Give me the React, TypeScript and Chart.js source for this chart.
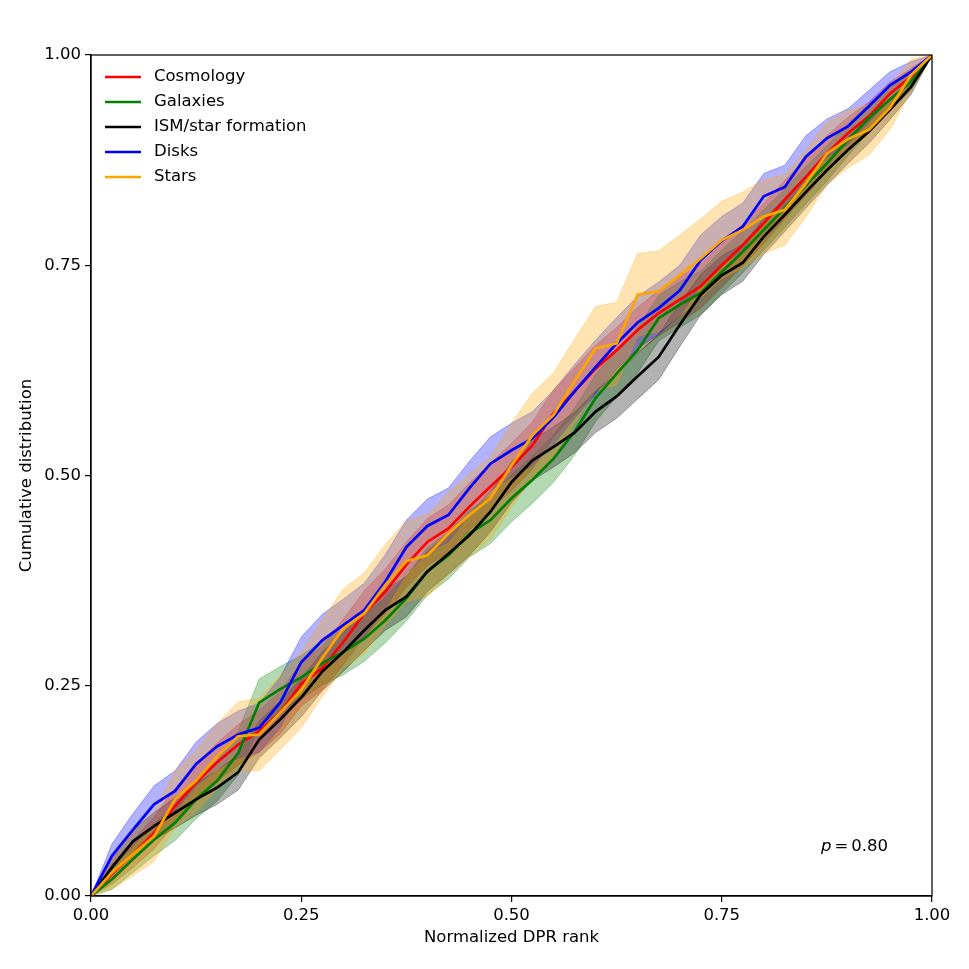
import { useEffect, useRef } from 'react';
import { Chart, registerables } from 'chart.js';

Chart.register(...registerables);

const FONT = "'DejaVu Sans', sans-serif";

const rank = [
  0, 0.025, 0.05, 0.075, 0.1, 0.125, 0.15, 0.175, 0.2, 0.225, 0.25, 0.275, 0.3, 0.325, 0.35, 0.375,
  0.4, 0.425, 0.45, 0.475, 0.5, 0.525, 0.55, 0.575, 0.6, 0.625, 0.65, 0.675, 0.7, 0.725, 0.75, 0.775,
  0.8, 0.825, 0.85, 0.875, 0.9, 0.925, 0.95, 0.975, 1,
];

const cosmology = [
  0, 0.026, 0.05, 0.075, 0.107, 0.135, 0.159, 0.18, 0.196, 0.218, 0.252, 0.271, 0.302, 0.336, 0.362, 0.394,
  0.421, 0.437, 0.463, 0.487, 0.51, 0.536, 0.574, 0.6, 0.627, 0.649, 0.673, 0.693, 0.709, 0.725, 0.75, 0.774,
  0.8, 0.828, 0.855, 0.883, 0.907, 0.927, 0.954, 0.974, 1,
];
const galaxies = [
  0, 0.02, 0.044, 0.067, 0.087, 0.115, 0.137, 0.17, 0.23, 0.246, 0.26, 0.277, 0.29, 0.306, 0.328, 0.354,
  0.386, 0.405, 0.431, 0.447, 0.473, 0.495, 0.52, 0.552, 0.592, 0.621, 0.649, 0.687, 0.703, 0.717, 0.742, 0.766,
  0.792, 0.818, 0.845, 0.871, 0.899, 0.925, 0.947, 0.968, 1,
];
const ism = [
  0, 0.034, 0.065, 0.083, 0.099, 0.115, 0.129, 0.147, 0.186, 0.21, 0.236, 0.267, 0.29, 0.316, 0.34, 0.356,
  0.386, 0.407, 0.429, 0.457, 0.492, 0.518, 0.534, 0.551, 0.576, 0.594, 0.618, 0.641, 0.679, 0.715, 0.738, 0.753,
  0.784, 0.81, 0.837, 0.863, 0.887, 0.909, 0.935, 0.962, 1,
];
const disks = [
  0, 0.048, 0.079, 0.109, 0.125, 0.157, 0.178, 0.192, 0.2, 0.23, 0.278, 0.304, 0.322, 0.34, 0.374, 0.415,
  0.44, 0.453, 0.485, 0.514, 0.53, 0.544, 0.569, 0.6, 0.629, 0.657, 0.682, 0.699, 0.72, 0.756, 0.779, 0.796,
  0.832, 0.843, 0.879, 0.901, 0.915, 0.939, 0.964, 0.98, 1,
];
const stars = [
  0, 0.028, 0.05, 0.071, 0.115, 0.137, 0.166, 0.19, 0.192, 0.218, 0.245, 0.283, 0.318, 0.336, 0.37, 0.398,
  0.405, 0.431, 0.453, 0.473, 0.512, 0.548, 0.572, 0.612, 0.651, 0.657, 0.715, 0.719, 0.738, 0.758, 0.78, 0.792,
  0.808, 0.816, 0.847, 0.883, 0.9, 0.911, 0.937, 0.976, 1,
];

// half-widths of the shaded bands
const cosmologyBand = [
  0, 0.012, 0.016, 0.019, 0.021, 0.022, 0.023, 0.024, 0.025, 0.025, 0.026, 0.026, 0.027, 0.027, 0.027, 0.027,
  0.028, 0.028, 0.028, 0.028, 0.028, 0.028, 0.028, 0.028, 0.028, 0.027, 0.027, 0.027, 0.027, 0.026, 0.026, 0.025,
  0.024, 0.023, 0.022, 0.021, 0.019, 0.017, 0.014, 0.01, 0,
];
const galaxiesBand = [
  0, 0.012, 0.016, 0.019, 0.021, 0.023, 0.024, 0.026, 0.028, 0.027, 0.026, 0.026, 0.027, 0.027, 0.027, 0.027,
  0.028, 0.028, 0.028, 0.028, 0.028, 0.028, 0.028, 0.028, 0.028, 0.027, 0.027, 0.027, 0.027, 0.026, 0.026, 0.025,
  0.024, 0.023, 0.022, 0.021, 0.019, 0.017, 0.014, 0.01, 0,
];
const ismBand = [
  0, 0.01, 0.014, 0.016, 0.018, 0.019, 0.02, 0.021, 0.022, 0.022, 0.023, 0.023, 0.023, 0.024, 0.024, 0.024,
  0.024, 0.024, 0.024, 0.024, 0.024, 0.024, 0.024, 0.024, 0.025, 0.026, 0.027, 0.027, 0.026, 0.024, 0.023, 0.022,
  0.021, 0.02, 0.019, 0.018, 0.016, 0.014, 0.012, 0.009, 0,
];
const disksBand = [
  0, 0.014, 0.019, 0.022, 0.024, 0.026, 0.027, 0.028, 0.029, 0.03, 0.03, 0.031, 0.031, 0.032, 0.032, 0.032,
  0.032, 0.032, 0.032, 0.032, 0.032, 0.032, 0.032, 0.032, 0.032, 0.031, 0.031, 0.031, 0.03, 0.03, 0.029, 0.028,
  0.027, 0.026, 0.025, 0.023, 0.021, 0.019, 0.016, 0.012, 0,
];
const starsBand = [
  0, 0.02, 0.026, 0.03, 0.034, 0.037, 0.039, 0.041, 0.043, 0.044, 0.045, 0.046, 0.047, 0.048, 0.048, 0.048,
  0.049, 0.049, 0.049, 0.049, 0.05, 0.05, 0.05, 0.05, 0.05, 0.049, 0.049, 0.048, 0.048, 0.047, 0.046, 0.045,
  0.044, 0.042, 0.04, 0.037, 0.034, 0.03, 0.026, 0.019, 0,
];

const labels = ['Cosmology', 'Galaxies', 'ISM/star formation', 'Disks', 'Stars'];
const colors = ['255,0,0', '0,128,0', '0,0,0', '0,0,255', '255,165,0'];

export default function App(): React.JSX.Element {
  const canvasRef = useRef<HTMLCanvasElement>(null);

  useEffect(() => {
    document.body.style.margin = '0';
    if (!canvasRef.current) return;

    const series = [cosmology, galaxies, ism, disks, stars];
    const bands = [cosmologyBand, galaxiesBand, ismBand, disksBand, starsBand];
    const datasets: any[] = [];
    series.forEach((ys, s) => {
      const rgb = colors[s];
      // bands underneath all lines; later series on top of earlier ones
      datasets.push({
        label: labels[s] + ' lo',
        data: rank.map((x, i) => ({ x, y: Math.max(0, ys[i] - bands[s][i]) })),
        borderColor: `rgba(${rgb},0.3)`,
        borderWidth: 1,
        pointRadius: 0,
        fill: false,
        order: 20 - s,
      });
      datasets.push({
        label: labels[s] + ' hi',
        data: rank.map((x, i) => ({ x, y: Math.min(1, ys[i] + bands[s][i]) })),
        borderColor: `rgba(${rgb},0.3)`,
        backgroundColor: `rgba(${rgb},0.3)`,
        borderWidth: 1,
        pointRadius: 0,
        fill: '-1',
        order: 20 - s,
      });
      datasets.push({
        label: labels[s],
        data: rank.map((x, i) => ({ x, y: ys[i] })),
        borderColor: `rgb(${rgb})`,
        borderWidth: 2.7,
        pointRadius: 0,
        fill: false,
        order: 10 - s,
      });
    });

    const framePlugin = {
      id: 'frame',
      afterDatasetsDraw(chart: Chart) {
        const { ctx, chartArea: a } = chart;
        ctx.save();
        ctx.strokeStyle = '#000';
        ctx.lineWidth = 1.25;
        ctx.strokeRect(a.left, a.top, a.right - a.left, a.bottom - a.top);
        ctx.restore();
      },
    };

    const legendPlugin = {
      id: 'mplLegend',
      afterDraw(chart: Chart) {
        const { ctx } = chart;
        ctx.save();
        ctx.font = `16.5px ${FONT}`;
        ctx.textBaseline = 'middle';
        labels.forEach((name, i) => {
          const y = 77 + i * 25;
          ctx.strokeStyle = `rgb(${colors[i]})`;
          ctx.lineWidth = 2.7;
          ctx.beginPath();
          ctx.moveTo(105, y);
          ctx.lineTo(141, y);
          ctx.stroke();
          ctx.fillStyle = '#000';
          ctx.fillText(name, 154, y);
        });
        // p-value annotation
        ctx.font = `italic 16.5px ${FONT}`;
        let x = 821;
        const y = 847;
        ctx.fillText('p', x, y);
        x += ctx.measureText('p').width + 3;
        ctx.font = `16.5px ${FONT}`;
        ctx.fillText('=', x, y);
        x += ctx.measureText('=').width + 3;
        ctx.fillText('0.80', x, y);
        ctx.restore();
      },
    };

    const tickFont = { family: FONT, size: 16.5 };

    const chart = new Chart(canvasRef.current, {
      type: 'line',
      data: { datasets },
      options: {
        animation: false,
        responsive: true,
        maintainAspectRatio: false,
        devicePixelRatio: 1,
        layout: { padding: { top: 55, right: 37, left: 0, bottom: 0 } },
        plugins: { legend: { display: false }, tooltip: { enabled: false } },
        scales: {
          x: {
            type: 'linear',
            min: 0,
            max: 1,
            ticks: {
              stepSize: 0.25,
              autoSkip: false,
              maxRotation: 0,
              color: '#000',
              padding: 4,
              font: tickFont,
              callback: (v) => Number(v).toFixed(2),
            },
            grid: { drawOnChartArea: false, tickLength: 6, color: '#000', lineWidth: 1.2 },
            border: { color: '#000', width: 1.25 },
            title: {
              display: true,
              text: 'Normalized DPR rank',
              color: '#000',
              font: tickFont,
              padding: { top: 0, bottom: 21 },
            },
            afterFit: (s: any) => {
              s.height = 73;
            },
          },
          y: {
            type: 'linear',
            min: 0,
            max: 1,
            ticks: {
              stepSize: 0.25,
              color: '#000',
              padding: 4,
              font: tickFont,
              callback: (v) => Number(v).toFixed(2),
            },
            grid: { drawOnChartArea: false, tickLength: 6, color: '#000', lineWidth: 1.2 },
            border: { color: '#000', width: 1.25 },
            title: {
              display: true,
              text: 'Cumulative distribution',
              color: '#000',
              font: tickFont,
              padding: { top: 17, bottom: 0 },
            },
            afterFit: (s: any) => {
              s.width = 91;
            },
          },
        },
      },
      plugins: [framePlugin, legendPlugin],
    });

    return () => {
      chart.destroy();
    };
  }, []);

  return (
    <div style={{ width: 969, height: 969, position: 'relative', background: '#fff' }}>
      <canvas ref={canvasRef} />
    </div>
  );
}
